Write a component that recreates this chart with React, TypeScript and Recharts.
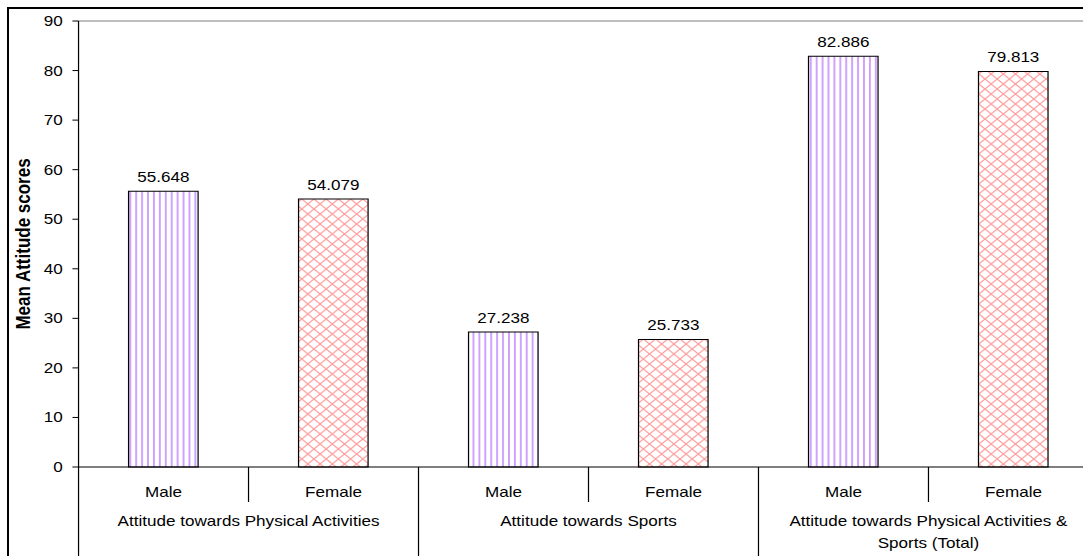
import React from "react";
import { Bar, BarChart, Cell, LabelList, ReferenceLine, XAxis, YAxis } from "recharts";

const categories = ["Male", "Female", "Male", "Female", "Male", "Female"];
const groupLabels = [
  ["Attitude towards Physical Activities"],
  ["Attitude towards Sports"],
  ["Attitude towards Physical Activities &", "Sports (Total)"]
];
const meanScores = [55.648, 54.079, 27.238, 25.733, 82.886, 79.813];
const yTicks = [0, 10, 20, 30, 40, 50, 60, 70, 80, 90];

// the source picture is stretched sideways, so draw narrower and scale on x
const SCALE_X = 1.22;
const CHART_W = 902;
const CHART_H = 560;
const Y_AXIS_W = 57;
const X_AXIS_H = 102;
const MARGIN = { top: 12, right: 9, bottom: 0, left: 0 };
const BAND = (CHART_W - Y_AXIS_W - MARGIN.right) / categories.length;
const FONT = "'Liberation Sans', Arial, sans-serif";

const data = categories.map((sex, i) => ({ id: `${i}-${sex}`, sex, value: meanScores[i] }));

function CategoryTick(props: any) {
  const { x, y, index } = props;
  const half = BAND / 2;
  const groupEnd = index % 2 === 1;
  const g = Math.floor(index / 2);
  return (
    <g>
      <text x={x} y={y + 30} textAnchor="middle" fontSize={14} fill="#000" fontFamily={FONT}>
        {categories[index]}
      </text>
      {index === 0 && <line x1={x - half} x2={x - half} y1={y} y2={y + 110} stroke="#000" />}
      <line x1={x + half} x2={x + half} y1={y} y2={y + (groupEnd ? 110 : 35)} stroke="#000" />
      {groupEnd &&
        groupLabels[g].map((t, k) => (
          <text key={k} x={x - half} y={y + 59 + k * 22} textAnchor="middle" fontSize={14} fill="#000" fontFamily={FONT}>
            {t}
          </text>
        ))}
    </g>
  );
}

export default function App() {
  return (
    <div
      style={{
        position: "absolute",
        left: 7,
        top: 7,
        width: 1076,
        height: 549,
        boxSizing: "border-box",
        borderLeft: "2px solid #000",
        borderTop: "2px solid #000",
        overflow: "hidden",
        background: "#fff",
        fontFamily: FONT
      }}
    >
      <div style={{ width: CHART_W, transform: `scaleX(${SCALE_X})`, transformOrigin: "0 0" }}>
        <BarChart width={CHART_W} height={CHART_H} data={data} margin={MARGIN}>
          <defs>
            <pattern id="malePattern" patternUnits="userSpaceOnUse" width={4.85} height={10}>
              <rect width={4.85} height={10} fill="#fff" />
              <line x1={2.4} x2={2.4} y1={0} y2={10} stroke="#c38cff" strokeWidth={1.3} />
            </pattern>
            <pattern id="femalePattern" patternUnits="userSpaceOnUse" width={10} height={10}>
              <rect width={10} height={10} fill="#fff" />
              <path d="M0,0 L10,10 M10,0 L0,10" stroke="#ff9a9a" strokeWidth={1.1} />
            </pattern>
          </defs>
          <ReferenceLine y={90} stroke="#808080" strokeWidth={1} />
          <XAxis
            dataKey="id"
            height={X_AXIS_H}
            interval={0}
            tickLine={false}
            tickSize={0}
            tickMargin={0}
            axisLine={{ stroke: "#000" }}
            tick={<CategoryTick />}
          />
          <YAxis
            domain={[0, 90]}
            ticks={yTicks}
            width={Y_AXIS_W}
            tickSize={5}
            tickMargin={8}
            axisLine={{ stroke: "#000" }}
            tickLine={{ stroke: "#000" }}
            tick={{ fontSize: 14, fill: "#000", fontFamily: FONT }}
            label={{
              value: "Mean Attitude scores",
              angle: -90,
              position: "center",
              dx: -17,
              style: { fontSize: 17, fontWeight: "bold", fill: "#000", fontFamily: FONT }
            }}
          />
          <Bar dataKey="value" barSize={57} stroke="#000" strokeWidth={1} isAnimationActive={false}>
            {data.map((d) => (
              <Cell key={d.id} fill={d.sex === "Male" ? "url(#malePattern)" : "url(#femalePattern)"} />
            ))}
            <LabelList
              dataKey="value"
              position="top"
              offset={9}
              fontSize={14}
              fill="#000"
              fontFamily={FONT}
              formatter={(v: number) => v.toFixed(3)}
            />
          </Bar>
        </BarChart>
      </div>
    </div>
  );
}
